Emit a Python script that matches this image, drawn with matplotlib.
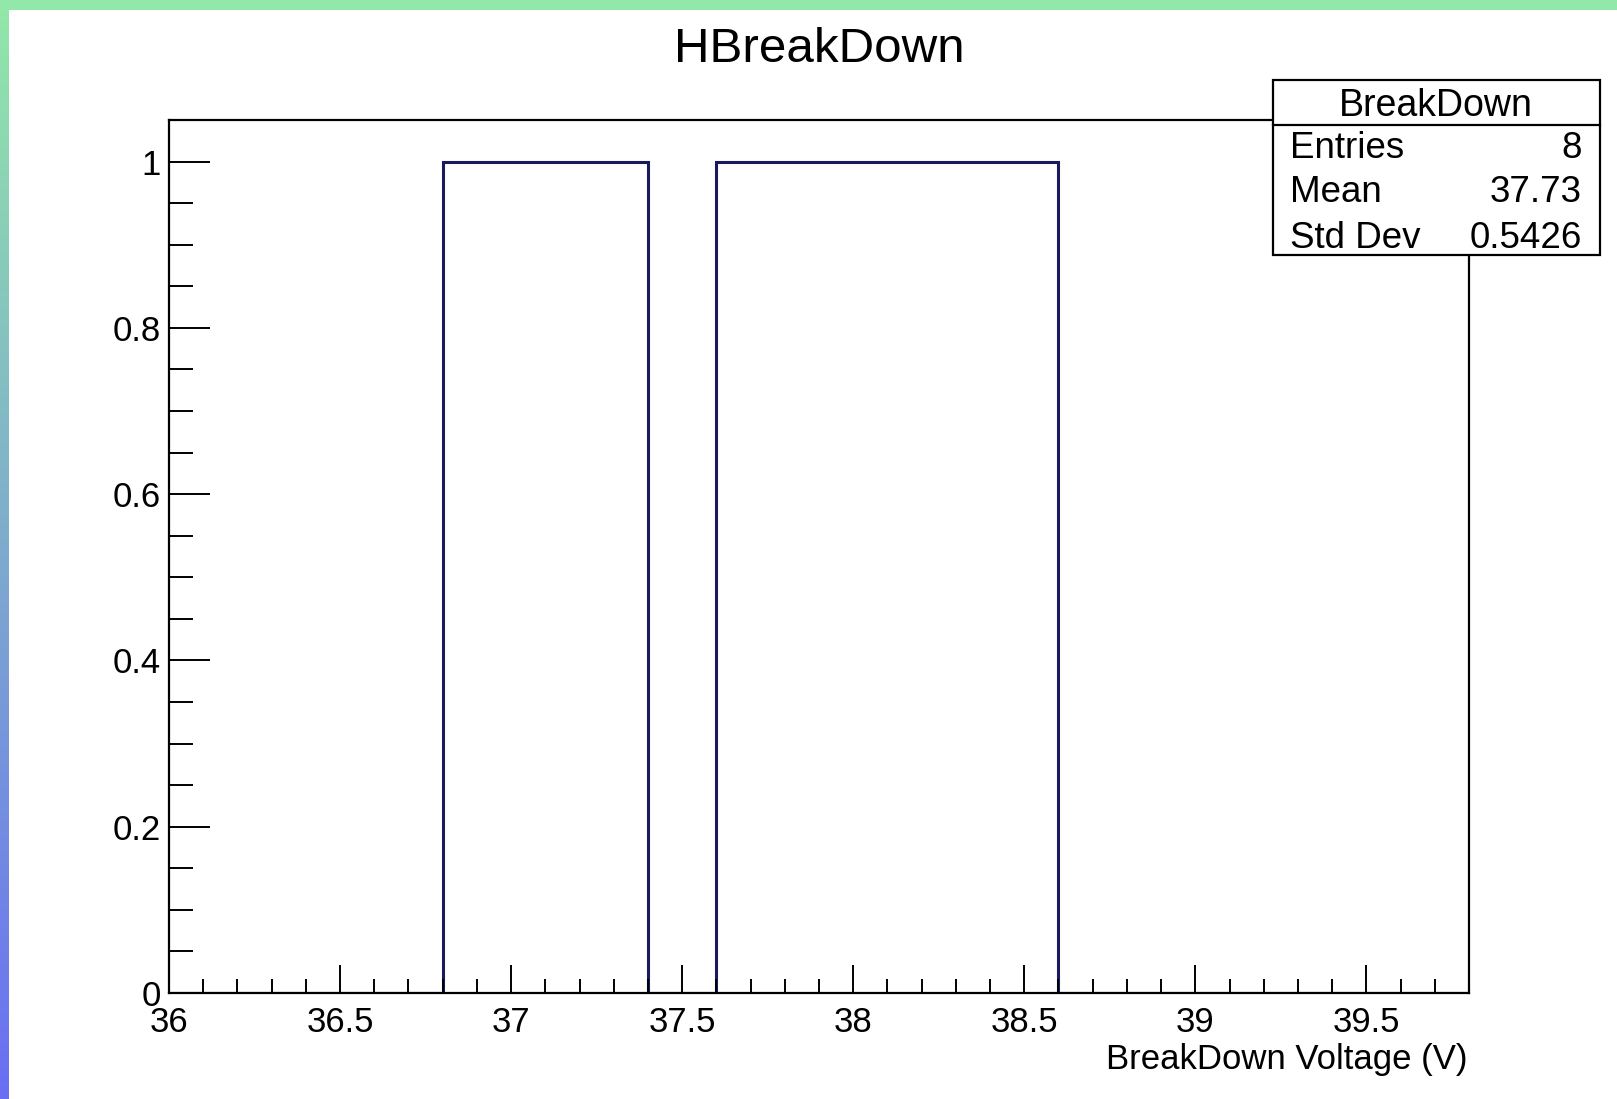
import numpy as np
import matplotlib
matplotlib.use('Agg')
import matplotlib.pyplot as plt
from matplotlib.patches import Rectangle
from matplotlib.lines import Line2D
from matplotlib.ticker import MultipleLocator

plt.rcParams['font.family'] = ['Liberation Sans', 'DejaVu Sans']

# histogram content (bin width 0.2 V, 36.0 -> 39.8)
bin_edges = np.round(np.arange(36.0, 39.8001, 0.2), 1)
counts = [0, 0, 0, 0, 1, 1, 1, 0, 1, 1, 1, 1, 1, 0, 0, 0, 0, 0, 0]

title = 'HBreakDown'
xlabel = 'BreakDown Voltage (V)'
stat_name = 'BreakDown'
stat_labels = ['Entries', 'Mean', 'Std Dev']
stat_values = ['8', '37.73', '0.5426']

W, H = 1617, 1099
fig = plt.figure(figsize=(W / 100, H / 100), dpi=100)
fig.patch.set_facecolor('white')

def fx(px):
    return px / W

def fy(py):
    return 1 - py / H

# coloured frame: green band on top, green->blue strip on the left
band = fig.add_axes([0, 0, 1, 1], zorder=-5)
band.axis('off')
band.set_xlim(0, W)
band.set_ylim(H, 0)
grad = np.linspace(0, 1, 256).reshape(-1, 1)
cmap = matplotlib.colors.LinearSegmentedColormap.from_list('edge', ['#92e8a8', '#6a6ef4'])
band.imshow(grad, cmap=cmap, extent=[0, 8, H, 0], aspect='auto')
band.add_patch(Rectangle((0, 0), W, 10, color='#92e8a8', lw=0))

ax = fig.add_axes([fx(169), fy(993), fx(1469) - fx(169), fy(120) - fy(993)])
ax.stairs(counts, bin_edges, color='#1a1a5e', linewidth=2.2)
ax.set_xlim(36.0, 39.8)
ax.set_ylim(0, 1.05)

ax.xaxis.set_major_locator(MultipleLocator(0.5))
ax.xaxis.set_minor_locator(MultipleLocator(0.1))
ax.yaxis.set_major_locator(MultipleLocator(0.2))
ax.yaxis.set_minor_locator(MultipleLocator(0.05))
ax.xaxis.set_major_formatter(matplotlib.ticker.FuncFormatter(lambda v, p: ('%g' % round(v, 2))))
ax.yaxis.set_major_formatter(matplotlib.ticker.FuncFormatter(lambda v, p: ('%g' % round(v, 2))))

ax.tick_params(axis='x', which='major', direction='in', length=20, width=1.4, labelsize=25, pad=9)
ax.tick_params(axis='x', which='minor', direction='in', length=10, width=1.4)
ax.tick_params(axis='y', which='major', direction='in', length=29.5, width=1.4, labelsize=25, pad=6)
ax.tick_params(axis='y', which='minor', direction='in', length=17, width=1.4)
for s in ['top', 'bottom', 'left', 'right']:
    ax.spines[s].set_linewidth(1.6)

fig.text(fx(819), fy(50), title, fontsize=35.5, ha='center', va='center')
fig.text(fx(1467), fy(1060), xlabel, fontsize=25, ha='right', va='center')

# stats box
bx0, bx1, by0, by1 = 1273, 1600, 80, 255
fig.add_artist(Rectangle((fx(bx0), fy(by1)), fx(bx1) - fx(bx0), fy(by0) - fy(by1),
                         transform=fig.transFigure, facecolor='white', edgecolor='black',
                         linewidth=1.6, zorder=10))
fig.add_artist(Line2D([fx(bx0), fx(bx1)], [fy(125), fy(125)], transform=fig.transFigure,
                      color='black', linewidth=1.6, zorder=11))
fig.text(fx(1436), fy(106), stat_name, fontsize=27, ha='center', va='center', zorder=12)
row_y = [148, 193, 238]
for lab, val, yy in zip(stat_labels, stat_values, row_y):
    fig.text(fx(1290), fy(yy), lab, fontsize=26.5, ha='left', va='center', zorder=12)
    fig.text(fx(1582), fy(yy), val, fontsize=26.5, ha='right', va='center', zorder=12)

fig.savefig('out.png', dpi=100)
